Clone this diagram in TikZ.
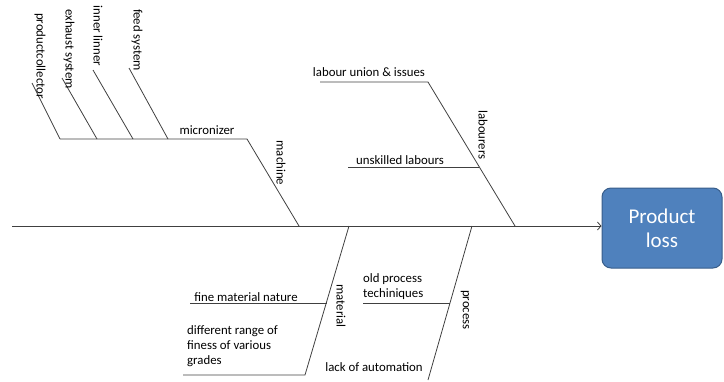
\documentclass[tikz,border=0pt]{standalone}
\usepackage{fontspec}
\setmainfont{Carlito}
\usetikzlibrary{arrows.meta}
\definecolor{bone}{HTML}{404040}
\definecolor{boxfill}{HTML}{4F81BD}
\definecolor{boxline}{HTML}{385D8A}
\begin{document}
\begin{tikzpicture}[x=1pt,y=-1pt,
  boneline/.style={draw=bone,line width=0.8pt},
  lbl/.style={inner sep=0pt,font=\fontsize{12.8}{15}\selectfont,text=black},
  vlbl/.style={lbl,rotate=-90},
  mlbl/.style={lbl,align=left,font=\fontsize{12.8}{15}\selectfont},
  effect/.style={draw=boxline,line width=1pt,fill=boxfill,rounded corners=9pt,text=white,font=\fontsize{21}{24}\selectfont,align=center,minimum width=120pt,minimum height=80pt,inner sep=0pt}]
\useasboundingbox (0,0) rectangle (724,381);
% effect box
\node[effect] (loss) at (662,228) {Product\\loss};
% spine
\coordinate (tail) at (12,226);
\draw[boneline,-{Straight Barb[length=3.5pt,width=8pt]}] (tail) -- (loss.west |- tail);
% machine
\coordinate (mA) at (299,226);
\coordinate (mB) at (247,139);
\coordinate (mC) at (60,139);
\draw[boneline] (mA) -- (mB) -- (mC);
\node[vlbl] (machine) at (281,163) {machine};
\node[lbl] (micron) at (207,130) {micronizer};
\coordinate (pc1) at (32,83);  \coordinate (pc2) at (60,139);
\coordinate (ex1) at (62,78);  \coordinate (ex2) at (97,139);
\coordinate (in1) at (93,70);  \coordinate (in2) at (133,139);
\coordinate (fe1) at (129,68); \coordinate (fe2) at (168,139);
\draw[boneline] (pc1) -- (pc2);
\draw[boneline] (ex1) -- (ex2);
\draw[boneline] (in1) -- (in2);
\draw[boneline] (fe1) -- (fe2);
\node[vlbl] (prodcol) at (40,56) {productcollector};
\node[vlbl] (exhaust) at (69,49) {exhaust system};
\node[vlbl] (inner) at (98,36) {inner linner};
\node[vlbl] (feed) at (137,40) {feed system};
% labourers
\coordinate (lA) at (515,226);
\coordinate (lB) at (428,82);
\coordinate (lC) at (320,82);
\draw[boneline] (lA) -- (lB) -- (lC);
\node[lbl] (union) at (369,72) {labour union \& issues};
\coordinate (us1) at (348,167);
\coordinate (us2) at (479,167);
\draw[boneline] (us1) -- (us2);
\node[lbl] (unskilled) at (400,160) {unskilled labours};
\node[vlbl] (labourers) at (483,135) {labourers};
% material
\coordinate (maA) at (349,226);
\coordinate (maB) at (305,375);
\coordinate (maC) at (183,375);
\draw[boneline] (maA) -- (maB) -- (maC);
\coordinate (fm1) at (190,303);
\coordinate (fm2) at (327,303);
\draw[boneline] (fm1) -- (fm2);
\node[lbl] (finemat) at (246,297) {fine material nature};
\node[mlbl,anchor=north west] (diffrange) at (187,325) {different range of\\finess of various\\grades};
\node[vlbl] (material) at (341,306) {material};
% process
\coordinate (prA) at (472,226);
\coordinate (prB) at (428,380);
\draw[boneline] (prA) -- (prB);
\coordinate (op1) at (363,303);
\coordinate (op2) at (450,303);
\draw[boneline] (op1) -- (op2);
\node[mlbl,anchor=south west] (oldproc) at (363,300) {old process\\techiniques};
\node[vlbl] (process) at (465,310) {process};
\node[lbl] (lackauto) at (374,367) {lack of automation};
\end{tikzpicture}
\end{document}
